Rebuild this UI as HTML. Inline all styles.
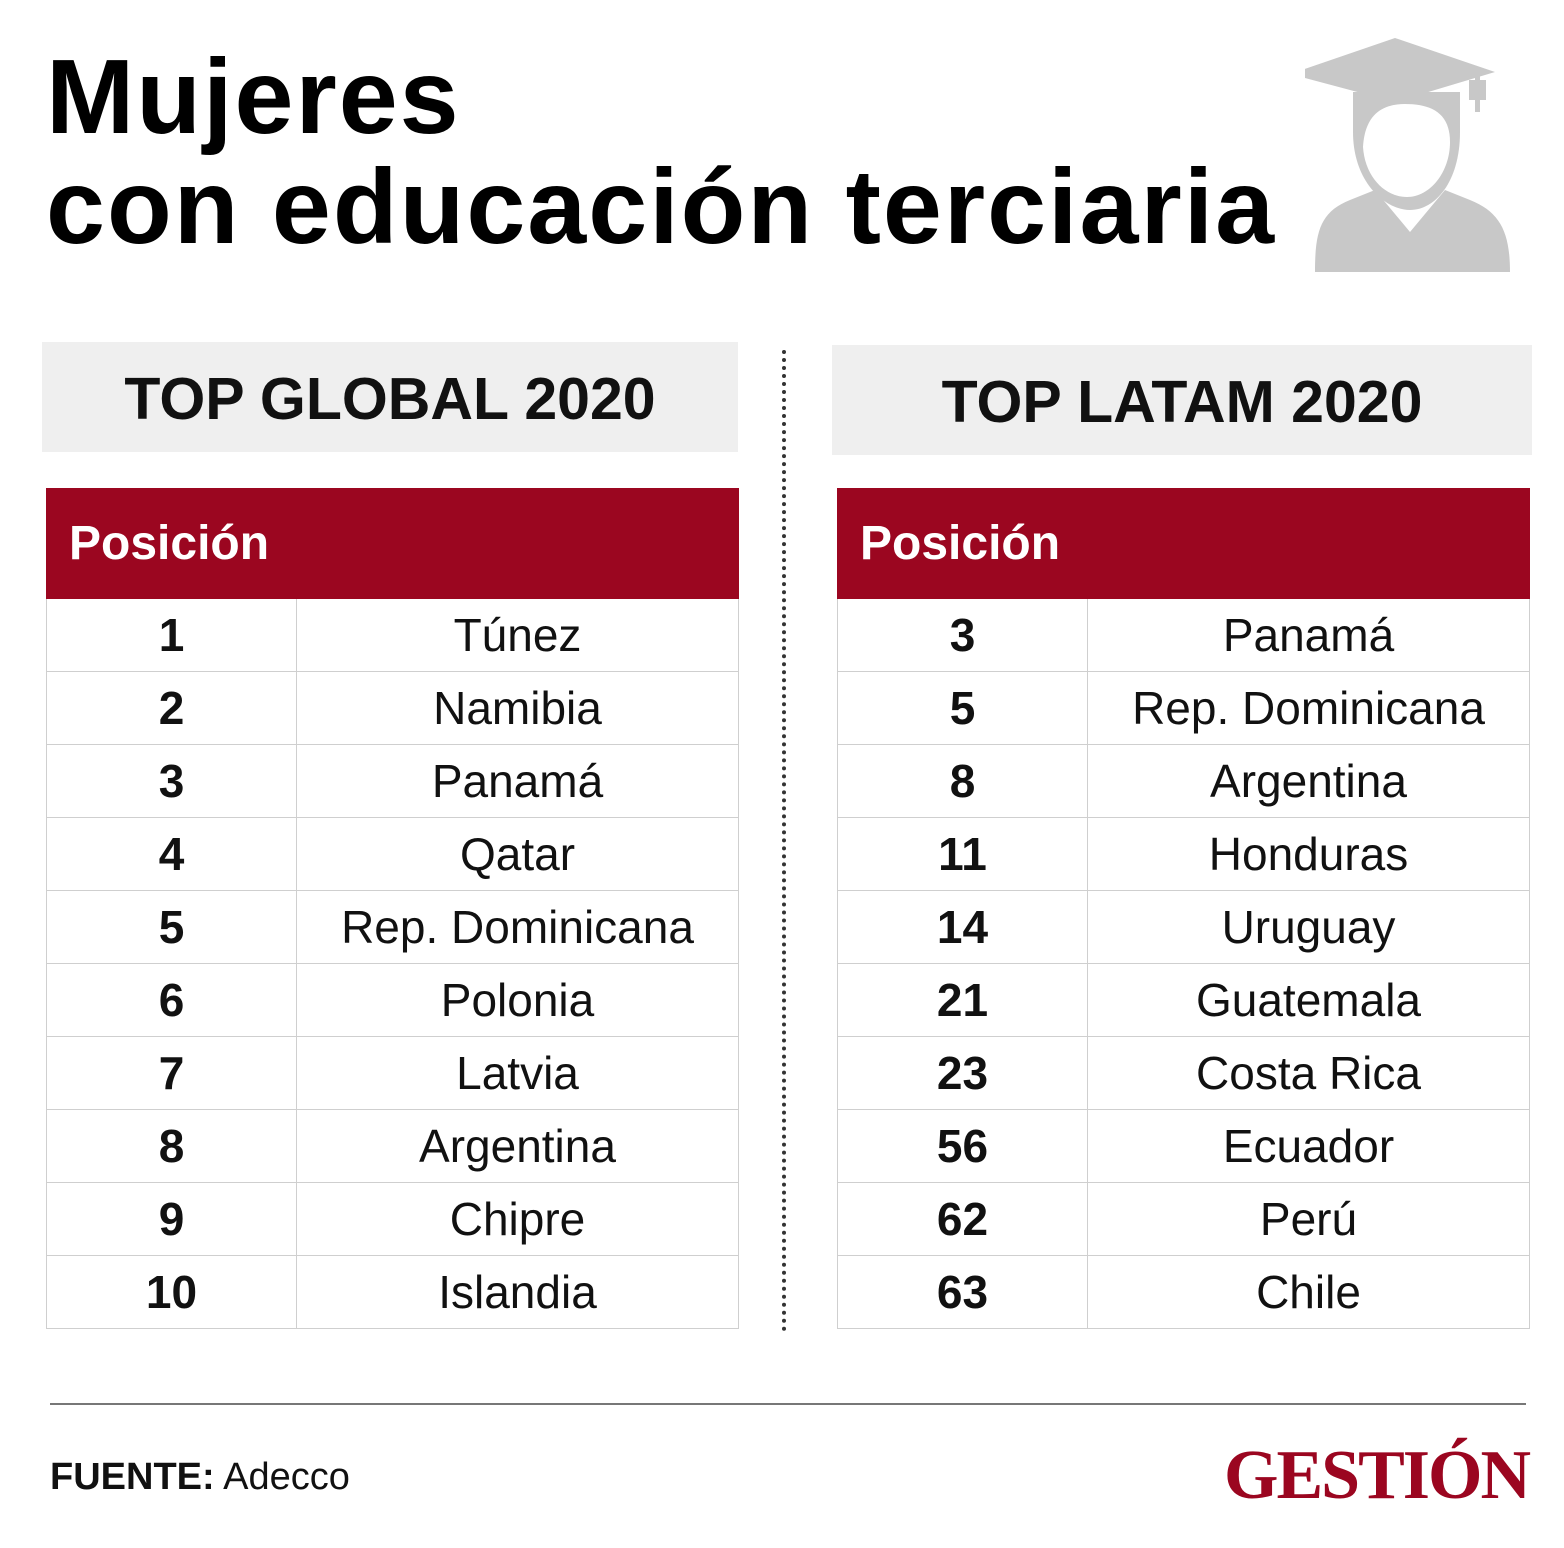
<!DOCTYPE html>
<html><head><meta charset="utf-8"><style>
body{margin:0;width:1564px;height:1548px;background:#fff;position:relative;font-family:"Liberation Sans",sans-serif;overflow:hidden}
.abs{position:absolute}
h1{position:absolute;left:46px;top:42px;margin:0;font-size:106px;line-height:110px;font-weight:bold;letter-spacing:2px;color:#000}
.hbox{position:absolute;background:#efefef;font-weight:bold;font-size:59px;text-align:center;color:#111}
table{position:absolute;border-collapse:collapse;font-size:46px;color:#111}
th{background:#9b0620;color:#fff;height:109px;font-size:48px;text-align:left;padding:0 0 0 22px;border:1px solid #9b0620}
th+th{border-left:1px solid #fff}
td{height:72px;border:1px solid #cfcfcf;text-align:center;padding:0}
td.p{font-weight:bold;width:249px}
</style></head><body>
<h1>Mujeres<br>con educación terciaria</h1>
<svg class="abs" style="left:1305px;top:32px" width="210" height="242">
<g fill="#c8c8c8">
<polygon points="-15,42 90,6 190,40 90,70"/>
<rect x="170" y="40" width="5" height="40"/><rect x="164" y="48" width="17" height="20"/>
<path d="M48,60 L48,100 C48,150 80,178 105,178 C130,178 155,150 155,100 L155,60 Z"/>
<path d="M10,240 L205,240 C205,200 195,180 165,168 L140,158 L105,200 L70,158 L45,168 C15,180 10,200 10,240 Z"/>
</g>
<path d="M58,115 C60,80 80,72 100,72 C125,72 145,80 145,110 C145,140 125,165 102,165 C80,165 60,145 58,115 Z" fill="#fff"/>
</svg>
<div class="hbox" style="left:42px;top:342px;width:696px;height:110px;line-height:114px">TOP GLOBAL 2020</div>
<div class="hbox" style="left:832px;top:345px;width:700px;height:110px;line-height:114px">TOP LATAM 2020</div>
<div class="abs" style="left:782px;top:350px;height:982px;border-left:4px dotted #333"></div>
<table style="left:46px;top:488px;width:693px">
<tr><th>Posición</th><th></th></tr>
<tr><td class="p">1</td><td>Túnez</td></tr>
<tr><td class="p">2</td><td>Namibia</td></tr>
<tr><td class="p">3</td><td>Panamá</td></tr>
<tr><td class="p">4</td><td>Qatar</td></tr>
<tr><td class="p">5</td><td>Rep. Dominicana</td></tr>
<tr><td class="p">6</td><td>Polonia</td></tr>
<tr><td class="p">7</td><td>Latvia</td></tr>
<tr><td class="p">8</td><td>Argentina</td></tr>
<tr><td class="p">9</td><td>Chipre</td></tr>
<tr><td class="p">10</td><td>Islandia</td></tr>
</table>
<table style="left:837px;top:488px;width:693px">
<tr><th>Posición</th><th></th></tr>
<tr><td class="p">3</td><td>Panamá</td></tr>
<tr><td class="p">5</td><td>Rep. Dominicana</td></tr>
<tr><td class="p">8</td><td>Argentina</td></tr>
<tr><td class="p">11</td><td>Honduras</td></tr>
<tr><td class="p">14</td><td>Uruguay</td></tr>
<tr><td class="p">21</td><td>Guatemala</td></tr>
<tr><td class="p">23</td><td>Costa Rica</td></tr>
<tr><td class="p">56</td><td>Ecuador</td></tr>
<tr><td class="p">62</td><td>Perú</td></tr>
<tr><td class="p">63</td><td>Chile</td></tr>
</table>
<div class="abs" style="left:50px;top:1403px;width:1476px;border-top:2px solid #777"></div>
<div class="abs" style="left:50px;top:1456px;font-size:38px;color:#111"><b>FUENTE:</b> Adecco</div>
<div class="abs" style="left:1224px;top:1436px;font-family:'Liberation Serif',serif;font-weight:bold;font-size:70px;color:#9b0620;letter-spacing:-2px">GESTIÓN</div>
</body></html>
